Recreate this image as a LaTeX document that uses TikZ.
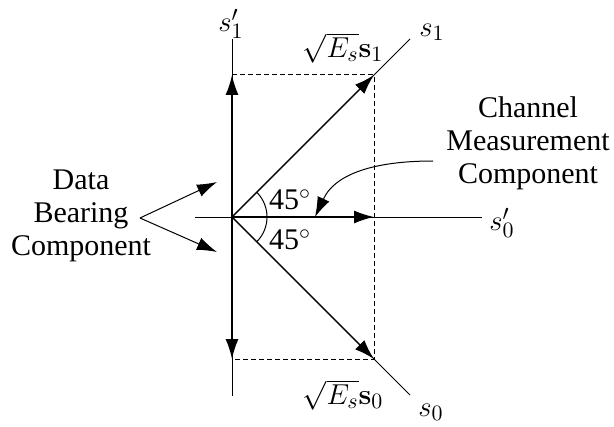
\documentclass[tikz,border=0pt]{standalone}
\usepackage[no-math]{fontspec}
\setmainfont{Liberation Serif}
\usetikzlibrary{arrows.meta,positioning,calc}

\begin{document}
\begin{tikzpicture}[x=0.5pt, y=-0.5pt, >={Latex[length=10pt,width=6.5pt]}, semithick]
  % Define styles
  \tikzstyle{axis}=[line width=0.5pt]
  \tikzstyle{vec}=[->, line width=0.7pt]
  \tikzstyle{proj}=[dash pattern=on 2.5pt off 1.5pt, line width=0.5pt]
  \tikzstyle{lbl}=[inner sep=0pt, font=\fontsize{15}{16.5}\selectfont]
  \tikzstyle{txt}=[inner sep=0pt, align=center, font=\fontsize{15}{16.5}\selectfont]

  \useasboundingbox (0,0) rectangle (614,427);

  % Points
  \coordinate (O)  at (232,217);
  \coordinate (S1) at (374,75);
  \coordinate (S0) at (374,359);
  \coordinate (P1) at (232,75);
  \coordinate (P0) at (232,359);
  \coordinate (PC) at (374,217);
  \coordinate (v1) at (232,39);
  \coordinate (v0) at (232,396);
  \coordinate (h0) at (195,217);
  \coordinate (h1) at (482,217);
  \coordinate (d1) at (410,39);
  \coordinate (d0) at (410,395);
  \coordinate (dbtip) at (140,218);
  \coordinate (cmtip) at (433,161);

  % Labels
  \node[lbl] (s1p) at (231,24)  {$s_1'$};
  \node[lbl] (s1)  at (432,32)  {$s_1$};
  \node[lbl] (s0p) at (502,223) {$s_0'$};
  \node[lbl] (s0)  at (431,412) {$s_0$};
  \node[lbl] (es1) at (343,48)  {$\sqrt{E_s}\mathbf{s}_1$};
  \node[lbl] (es0) at (343,395) {$\sqrt{E_s}\mathbf{s}_0$};
  \node[txt] (a1)  at (290,200) {45$^\circ$};
  \node[txt] (a0)  at (290,240) {45$^\circ$};
  \node[txt] (data) at (81,216)  {Data\\Bearing\\Component};
  \node[txt] (chan) at (528,143) {Channel\\Measurement\\Component};

  % Axes
  \draw[axis] (v1) -- (v0);
  \draw[axis] (h0) -- (h1);
  \draw[axis] (O) -- (d1);
  \draw[axis] (O) -- (d0);
  \draw[axis] (O) ++(45:17.5pt) arc[start angle=45, end angle=-45, radius=17.5pt];

  % Projections
  \draw[proj] (P1) -- (S1) -- (S0) -- (P0);

  % Vectors
  \draw[vec] (O) -- (S1);
  \draw[vec] (O) -- (S0);
  \draw[vec] (O) -- (P1);
  \draw[vec] (O) -- (P0);
  \draw[vec] (O) -- (PC);

  % Pointers
  \draw[vec, line width=0.5pt] (dbtip) -- (217,182);
  \draw[vec, line width=0.5pt] (dbtip) -- (217,252);
  \draw[vec, line width=0.5pt] (cmtip) to[out=180, in=65] (315,217);
\end{tikzpicture}
\end{document}
